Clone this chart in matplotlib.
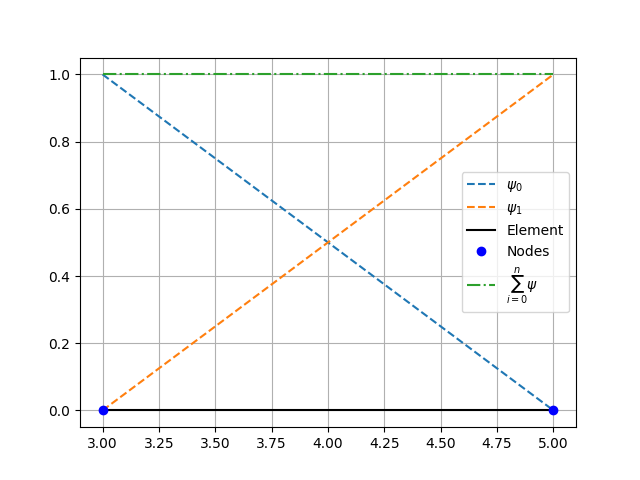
import numpy as np
import matplotlib
matplotlib.use("Agg")
import matplotlib.pyplot as plt

# element endpoints and shape function values at the nodes
x_nodes = [3.0, 5.0]
psi0 = [1.0, 0.0]
psi1 = [0.0, 1.0]
psi_sum = [a + b for a, b in zip(psi0, psi1)]
element = [0.0, 0.0]

fig, ax = plt.subplots(figsize=(6.4, 4.8), dpi=100)
ax.plot(x_nodes, psi0, "--", label=r"$\psi_0$")
ax.plot(x_nodes, psi1, "--", label=r"$\psi_1$")
ax.plot(x_nodes, element, "k-", label="Element")
ax.plot(x_nodes, element, "bo", label="Nodes")
ax.plot(x_nodes, psi_sum, "-.", label=r"$\sum_{i=0}^{n} \psi$")
ax.grid(True)
ax.legend()
fig.savefig("out.png")
